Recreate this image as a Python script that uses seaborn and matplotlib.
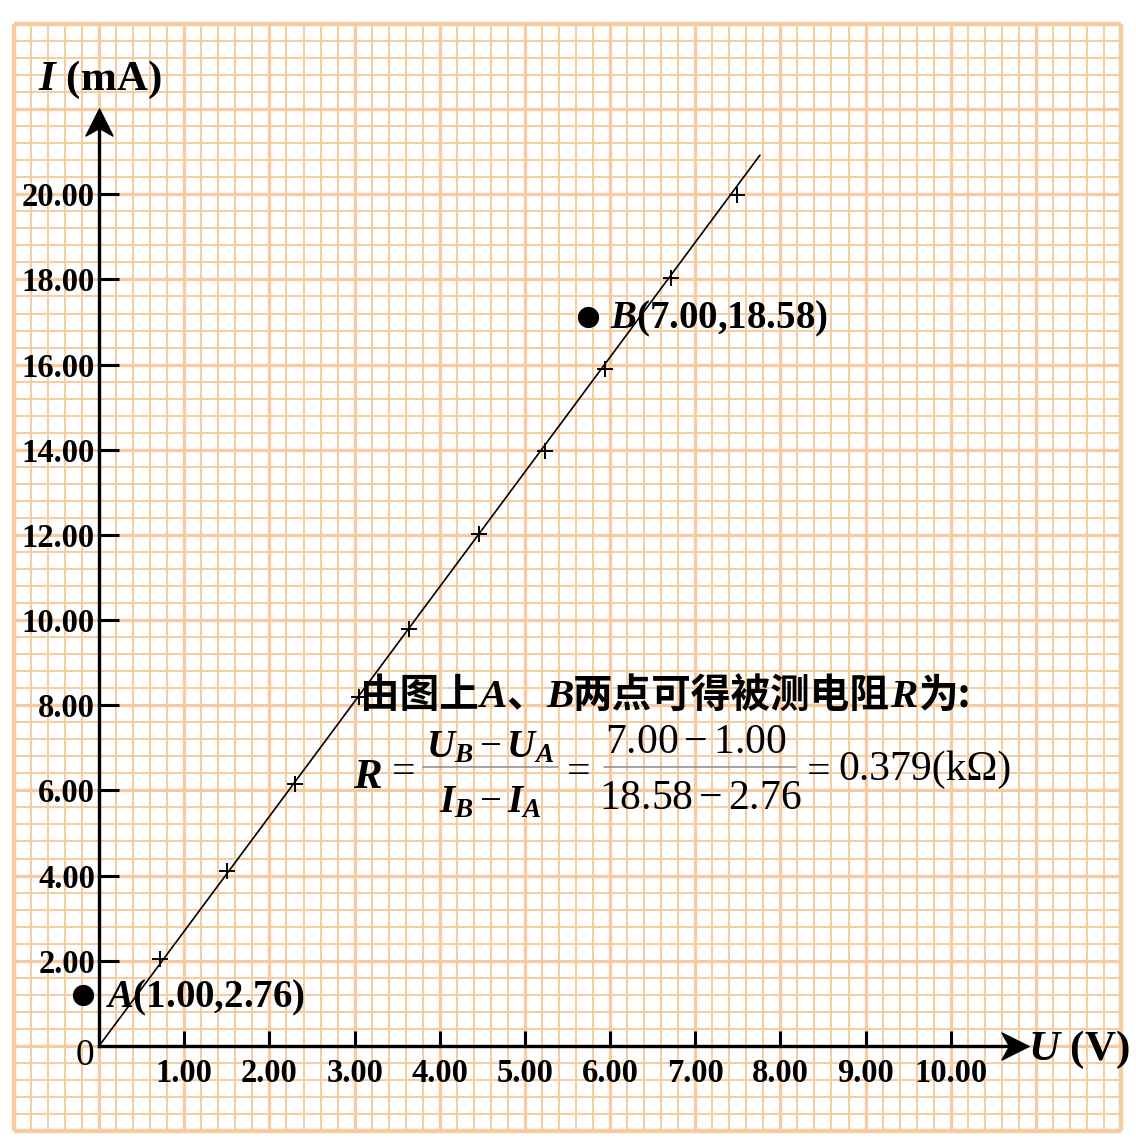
import numpy as np
import matplotlib
matplotlib.use('Agg')
import matplotlib.pyplot as plt
from matplotlib.path import Path
from matplotlib.lines import Line2D
import seaborn as sns

# measured points (U in V, I in mA)
u_meas = [0.72, 1.50, 2.30, 3.05, 3.64, 4.46, 5.24, 5.94, 6.71, 7.49]
i_meas = [2.04, 4.11, 6.15, 8.19, 9.79, 12.02, 13.97, 15.90, 18.03, 19.98]
# fitted straight line
fit_u = [0.0, 7.76]
fit_i = [0.0, 20.92]
# chosen points A and B (where the dots sit) and their labels
pt_names = ['A', 'B']
pt_u = [-0.19, 5.74]
pt_i = [1.19, 17.12]
pt_text = ['(1.00,2.76)', '(7.00,18.58)']

x_ticks = [1, 2, 3, 4, 5, 6, 7, 8, 9, 10]
x_labels = ['1.00', '2.00', '3.00', '4.00', '5.00', '6.00', '7.00', '8.00', '9.00', '10.00']
y_ticks = [2, 4, 6, 8, 10, 12, 14, 16, 18, 20]
y_labels = ['2.00', '4.00', '6.00', '8.00', '10.00', '12.00', '14.00', '16.00', '18.00', '20.00']

sns.set_style('white')
plt.rcParams['font.family'] = ['Liberation Serif', 'Noto Sans CJK SC']
plt.rcParams['mathtext.fontset'] = 'custom'
plt.rcParams['mathtext.rm'] = 'Liberation Serif'
plt.rcParams['mathtext.it'] = 'Liberation Serif:italic'
plt.rcParams['mathtext.bf'] = 'Liberation Serif:bold:italic'
for k in ['text.color', 'axes.labelcolor', 'xtick.color', 'ytick.color']:
    plt.rcParams[k] = 'black'
plt.rcParams['xtick.bottom'] = True
plt.rcParams['ytick.left'] = True

paper = '#F7CB9F'
W, H = 1136, 1144
fig = plt.figure(figsize=(W / 100, H / 100), dpi=100)
ax = fig.add_axes([14 / W, (H - 1131) / H, (1121 - 14) / W, (1131 - 24) / H])
ax.set_xlim(-1, 12)
ax.set_ylim(-2, 24)

# graph paper
xs = np.round(np.arange(-1, 12.001, 0.2), 2)
ys = np.round(np.arange(-2, 24.001, 0.4), 2)
xminor = [v for v in xs if abs(v - round(v)) > 1e-6]
yminor = [v for v in ys if abs(v / 2 - round(v / 2)) > 1e-6]
ax.vlines(xminor, -2, 24, colors=paper, lw=1.4, zorder=0.5)
ax.hlines(yminor, -1, 12, colors=paper, lw=1.4, zorder=0.5)
ax.vlines(np.arange(0, 12), -2, 24, colors=paper, lw=2.3, zorder=0.6)
ax.hlines(np.arange(0, 24, 2), -1, 12, colors=paper, lw=2.3, zorder=0.6)
ax.vlines([-1, 12], -2, 24, colors=paper, lw=3.2, zorder=0.6, clip_on=False)
ax.hlines([-2, 24], -1, 12, colors=paper, lw=3.2, zorder=0.6, clip_on=False)

# axes through the origin
for s in ['top', 'right']:
    ax.spines[s].set_visible(False)
ax.spines['left'].set_position(('data', 0))
ax.spines['bottom'].set_position(('data', 0))
ax.spines['left'].set_bounds(0, 21.7)
ax.spines['bottom'].set_bounds(0, 10.75)
for s in ['left', 'bottom']:
    ax.spines[s].set_linewidth(2.4)
    ax.spines[s].set_color('black')
    ax.spines[s].set_zorder(3)

up = Path([(0, 0.5), (0.5, -0.5), (0, -0.22), (-0.5, -0.5), (0, 0.5)],
          [Path.MOVETO, Path.LINETO, Path.LINETO, Path.LINETO, Path.CLOSEPOLY])
right = Path([(0.5, 0), (-0.5, 0.5), (-0.22, 0), (-0.5, -0.5), (0.5, 0)],
             [Path.MOVETO, Path.LINETO, Path.LINETO, Path.LINETO, Path.CLOSEPOLY])
ax.plot([0], [21.69], marker=up, ms=19.5, color='black', zorder=4, clip_on=False)
ax.plot([10.75], [0], marker=right, ms=19.5, color='black', zorder=4, clip_on=False)

ax.set_xticks(x_ticks, x_labels)
ax.set_yticks(y_ticks, y_labels)
ax.tick_params(axis='x', which='major', direction='in', length=10.8, width=2.2,
               pad=9, labelsize=23.5, bottom=True, color='black')
ax.tick_params(axis='y', which='major', direction='in', length=14.4, width=2.2,
               pad=3, labelsize=23.5, left=True, color='black')
ax.xaxis.set_zorder(4)
ax.yaxis.set_zorder(4)
for lab in ax.get_xticklabels() + ax.get_yticklabels():
    lab.set_fontweight('bold')

# data
sns.lineplot(x=fit_u, y=fit_i, color='black', lw=1.2, sort=False,
             errorbar=None, ax=ax, zorder=5)
sns.scatterplot(x=u_meas, y=i_meas, marker='+', s=120, color='black',
                linewidth=1.4, ax=ax, zorder=6)
sns.scatterplot(x=pt_u, y=pt_i, s=200, color='black', edgecolor='black',
                ax=ax, zorder=6, legend=False)
for n, u, i, t in zip(pt_names, pt_u, pt_i, pt_text):
    ax.annotate(r'$\mathbf{%s}$%s' % (n, t), (u, i), xytext=(16, -8.5),
                textcoords='offset points', fontsize=28, fontweight='bold',
                va='baseline', ha='left', zorder=7)
ax.set_xlabel('')
ax.set_ylabel('')

# axis titles
ax.text(-0.72, 22.45, r'$\mathbf{I}$ (mA)', fontsize=31, fontweight='bold',
        va='baseline', ha='left')
ax.text(10.91, -0.33, r'$\mathbf{U}$ (V)', fontsize=31, fontweight='bold',
        va='baseline', ha='left', clip_on=False)
ax.text(-0.17, -0.24, '0', fontsize=27, va='center', ha='center')


# text placed by pixel position (y measured from top of image)
def ptext(x, y, s, **kw):
    kw.setdefault('va', 'baseline')
    kw.setdefault('ha', 'left')
    return fig.text(x / W, 1 - y / H, s, zorder=8, **kw)


# sentence with mixed CJK / bold italic latin
renderer = fig.canvas.get_renderer()
cjk = dict(family=['Noto Sans CJK SC'], fontweight='bold', fontsize=28.5)
lat = dict(family=['Liberation Serif'], fontweight='bold', style='italic', fontsize=29.5)
parts = [('由图上', cjk), ('A', lat), ('、', cjk), ('B', lat),
         ('两点可得被测电阻', cjk), ('R', lat), ('为:', cjk)]
x0 = 360
for s, kw in parts:
    t = ptext(x0, 707, s, **kw)
    x0 += t.get_window_extent(renderer).width

# resistance formula
rm = dict(fontsize=30)
ptext(353, 788, r'$\mathbf{R}$', fontsize=31)
ptext(392, 783, '=', **rm)
ptext(490, 757, r'$\mathbf{U}_{\mathbf{B}}-\mathbf{U}_{\mathbf{A}}$', ha='center', fontsize=28)
ptext(490, 812, r'$\mathbf{I}_{\mathbf{B}}-\mathbf{I}_{\mathbf{A}}$', ha='center', fontsize=28)
ptext(567, 783, '=', **rm)
ptext(696, 753, r'$\mathrm{7.00}-\mathrm{1.00}$', ha='center', **rm)
ptext(700, 809, r'$\mathrm{18.58}-\mathrm{2.76}$', ha='center', **rm)
ptext(807, 783, '=', **rm)
ptext(838, 780, '0.379(kΩ)', **rm)
for a, b in [(423, 558), (604, 796)]:
    fig.add_artist(Line2D([a / W, b / W], [1 - 767 / H, 1 - 767 / H],
                          color='#8a8a8a', lw=1.1, zorder=8))

fig.savefig('out.png', dpi=100)
